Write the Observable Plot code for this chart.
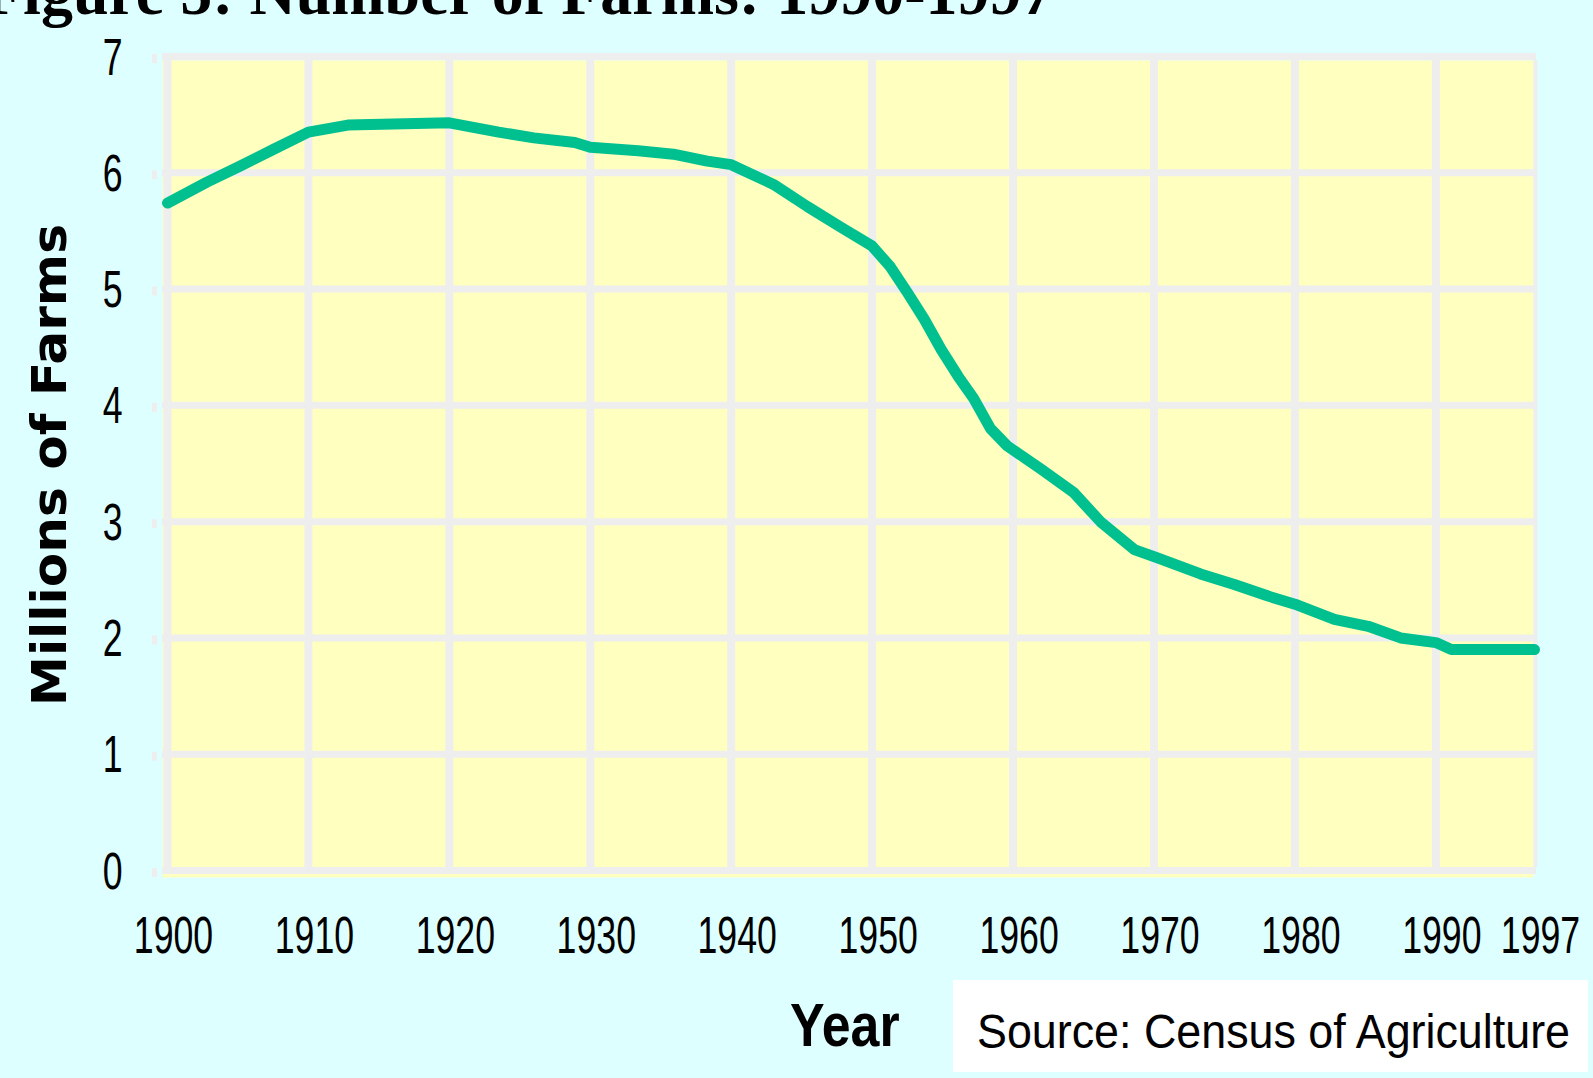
<!DOCTYPE html>
<html><head><meta charset="utf-8">
<script src="https://cdn.jsdelivr.net/npm/d3@7"></script>
<script src="https://cdn.jsdelivr.net/npm/@observablehq/plot@0.6"></script>
<style>
html,body{margin:0;padding:0;background:#ddffff;width:1593px;height:1078px;overflow:hidden}
#wrap{position:relative;width:1593px;height:1078px}
#wrap > svg{position:absolute;left:0;top:0}
</style></head><body><div id="wrap"></div>
<script>
// ---- data ----
const years = [1900, 1902.8, 1905.2, 1907.5, 1910, 1912.8, 1916, 1920, 1923.5, 1926, 1928.9, 1930, 1933.4, 1935.9, 1938.3, 1940, 1943, 1945.4, 1947.8, 1950, 1951.3, 1952.5, 1953.7, 1954.9, 1956.1, 1957.2, 1958.4, 1959.6, 1962, 1964.3, 1966.2, 1968.6, 1970.2, 1973.3, 1975.7, 1978.1, 1980, 1982.8, 1985.2, 1987.5, 1990, 1991.1, 1997];
const farmsMillions = [5.74, 5.92, 6.06, 6.20, 6.35, 6.41, 6.42, 6.43, 6.35, 6.30, 6.26, 6.22, 6.19, 6.16, 6.10, 6.07, 5.90, 5.71, 5.53, 5.37, 5.19, 4.97, 4.74, 4.48, 4.25, 4.06, 3.80, 3.65, 3.45, 3.25, 3.00, 2.76, 2.69, 2.55, 2.46, 2.36, 2.29, 2.16, 2.10, 2.00, 1.96, 1.90, 1.90];
const xTickLabels = [1900, 1910, 1920, 1930, 1940, 1950, 1960, 1970, 1980, 1990, 1997];
const xGridYears = [1900, 1910, 1920, 1930, 1940, 1950, 1960, 1970, 1980, 1990];
const yTickLabels = [0, 1, 2, 3, 4, 5, 6, 7];
const titleText = "Figure 5: Number of Farms: 1990-1997";
const yLabelText = "Millions of Farms";
const xLabelText = "Year";
const sourceText = "Source: Census of Agriculture";

const data = years.map((y, i) => ({year: y, farms: farmsMillions[i]}));

const W = 1593, H = 1078;
const gridColor = "#eeeeee";
const tickFont = "Liberation Sans, Arial, sans-serif";

const chart = Plot.plot({
  width: W, height: H,
  marginLeft: 167, marginRight: 59, marginTop: 56, marginBottom: 208,
  style: {background: "transparent", color: "black", overflow: "visible"},
  x: {domain: [1900, 1997]},
  y: {domain: [0, 7]},
  marks: [
    Plot.frame({fill: "#ffffc0", stroke: null, insetLeft: -5, insetTop: 4, insetRight: 1, insetBottom: -7}),
    Plot.ruleX(xGridYears, {stroke: gridColor, strokeWidth: 8, insetTop: 4, insetBottom: 3}),
    Plot.ruleX([1997], {stroke: gridColor, strokeWidth: 4, dx: 1, insetTop: 4, insetBottom: 3}),
    Plot.ruleY(yTickLabels, {stroke: gridColor, strokeWidth: 7, insetLeft: -5, insetRight: -2}),
    Plot.ruleY(yTickLabels, {stroke: gridColor, strokeWidth: 9, dy: 2, insetLeft: -15, insetRight: 1377}),
    Plot.line(data, {x: "year", y: "farms", stroke: "#00c090", strokeWidth: 11, strokeLinejoin: "round"}),
    Plot.axisX(xTickLabels, {tickSize: 0, tickPadding: 82, tickFormat: d => String(d), fontSize: 51, fontFamily: tickFont, dx: 6, label: null}),
    Plot.axisY(yTickLabels, {tickSize: 0, tickPadding: 45, tickFormat: d => String(d), fontSize: 51, fontFamily: tickFont, dy: 18, label: null})
  ]
});
document.getElementById("wrap").appendChild(chart);

// narrow the glyphs (condensed bitmap-like font in the original)
function squeeze(text, s) {
  const x = +text.getAttribute("x") || 0;
  const y = +text.getAttribute("y") || 0;
  const t = text.getAttribute("transform") || "";
  text.removeAttribute("x"); text.removeAttribute("y");
  text.setAttribute("transform", `${t} translate(${x},${y}) scale(${s},1)`);
}
chart.querySelectorAll('g[aria-label$="tick label"] text').forEach(t => squeeze(t, 0.70));

// overlay texts: title, axis labels, source box
const ov = d3.select("#wrap").append("svg")
  .attr("width", W).attr("height", H)
  .style("overflow", "visible");
ov.append("text")
  .attr("x", -16).attr("y", 14)
  .attr("font-family", "Liberation Serif, Times New Roman, serif")
  .attr("font-weight", "bold").attr("font-size", 64)
  .text(titleText);
ov.append("text")
  .attr("transform", "translate(66,465) rotate(-90)")
  .attr("text-anchor", "middle")
  .attr("font-family", "DejaVu Sans, sans-serif")
  .attr("font-weight", "bold").attr("font-size", 48)
  .attr("textLength", 482).attr("lengthAdjust", "spacingAndGlyphs")
  .text(yLabelText);
ov.append("text")
  .attr("transform", "translate(790,1046) scale(0.85,1)")
  .attr("font-family", "Liberation Sans, Arial, sans-serif")
  .attr("font-weight", "bold").attr("font-size", 61)
  .text(xLabelText);
ov.append("rect")
  .attr("x", 953).attr("y", 980).attr("width", 635).attr("height", 92)
  .attr("fill", "white");
ov.append("text")
  .attr("transform", "translate(977,1048) scale(0.915,1)")
  .attr("font-family", "Liberation Sans, Arial, sans-serif")
  .attr("font-size", 49)
  .text(sourceText);
</script></body></html>
